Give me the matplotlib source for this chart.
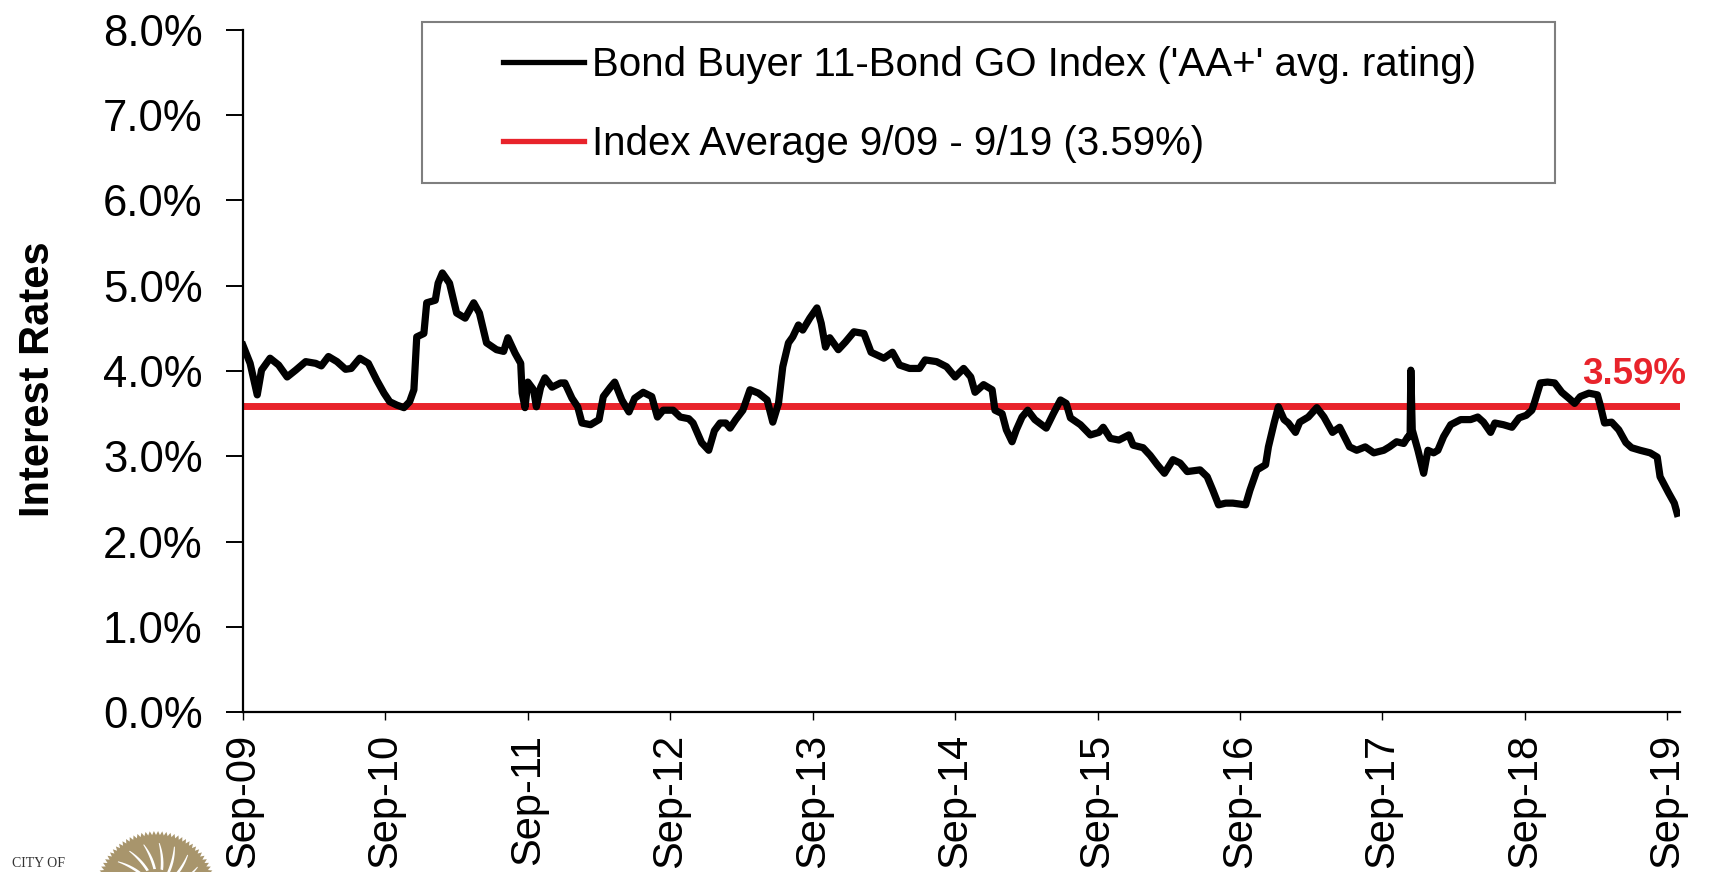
import matplotlib
matplotlib.use("Agg")
import matplotlib.pyplot as plt
from matplotlib.patches import Rectangle, Polygon
import numpy as np

# ---------------- data ----------------
# years elapsed since Sep-2009
years = [0.00, 0.05, 0.10, 0.13, 0.19, 0.25, 0.31, 0.37, 0.44, 0.51, 0.55, 0.60, 0.66,
         0.72, 0.76, 0.82, 0.88, 0.94, 0.99, 1.03, 1.08, 1.13, 1.17, 1.20, 1.22, 1.27,
         1.29, 1.35, 1.37, 1.40, 1.45, 1.50, 1.56, 1.62, 1.66, 1.71, 1.78, 1.83, 1.86,
         1.91, 1.95, 1.96, 1.98, 2.00, 2.04, 2.06, 2.09, 2.12, 2.17, 2.23, 2.26, 2.31,
         2.35, 2.38, 2.44, 2.50, 2.53, 2.58, 2.61, 2.66, 2.71, 2.75, 2.81, 2.87, 2.91,
         2.95, 3.02, 3.07, 3.13, 3.16, 3.22, 3.27, 3.31, 3.35, 3.39, 3.42, 3.46, 3.51,
         3.56, 3.62, 3.68, 3.72, 3.76, 3.79, 3.83, 3.86, 3.90, 3.93, 3.98, 4.03, 4.06,
         4.09, 4.12, 4.18, 4.23, 4.29, 4.36, 4.41, 4.50, 4.56, 4.61, 4.68, 4.75, 4.79,
         4.87, 4.94, 5.00, 5.06, 5.11, 5.14, 5.20, 5.26, 5.28, 5.33, 5.36, 5.40, 5.43,
         5.47, 5.51, 5.56, 5.64, 5.69, 5.74, 5.78, 5.81, 5.88, 5.95, 6.01, 6.04, 6.09,
         6.15, 6.22, 6.25, 6.32, 6.37, 6.42, 6.47, 6.53, 6.58, 6.63, 6.72, 6.77, 6.81,
         6.85, 6.90, 6.95, 7.04, 7.07, 7.12, 7.18, 7.20, 7.24, 7.27, 7.31, 7.34, 7.39,
         7.42, 7.48, 7.54, 7.59, 7.65, 7.70, 7.77, 7.82, 7.88, 7.94, 8.01, 8.05, 8.10,
         8.15, 8.18, 8.195, 8.20, 8.21, 8.25, 8.29, 8.32, 8.36, 8.39, 8.43, 8.48, 8.55,
         8.62, 8.67, 8.71, 8.76, 8.79, 8.85, 8.91, 8.96, 9.01, 9.05, 9.07, 9.11, 9.16,
         9.21, 9.26, 9.31, 9.35, 9.39, 9.45, 9.51, 9.53, 9.56, 9.61, 9.66, 9.71, 9.75,
         9.81, 9.88, 9.93, 9.95, 10.01, 10.05, 10.07]
rates = [4.30, 4.09, 3.72, 4.01, 4.15, 4.07, 3.93, 4.01, 4.11, 4.09, 4.06, 4.17, 4.11,
         4.02, 4.03, 4.15, 4.09, 3.89, 3.74, 3.64, 3.60, 3.57, 3.64, 3.78, 4.40, 4.44,
         4.80, 4.83, 5.03, 5.15, 5.03, 4.68, 4.62, 4.80, 4.68, 4.33, 4.25, 4.23, 4.39,
         4.21, 4.09, 3.74, 3.57, 3.87, 3.78, 3.58, 3.81, 3.92, 3.81, 3.86, 3.86, 3.68,
         3.58, 3.39, 3.37, 3.43, 3.70, 3.81, 3.87, 3.66, 3.52, 3.68, 3.75, 3.70, 3.46,
         3.54, 3.54, 3.46, 3.44, 3.39, 3.16, 3.07, 3.30, 3.39, 3.39, 3.33, 3.43, 3.54,
         3.78, 3.74, 3.66, 3.40, 3.62, 4.05, 4.33, 4.40, 4.54, 4.48, 4.62, 4.74, 4.56,
         4.28, 4.39, 4.25, 4.34, 4.46, 4.44, 4.22, 4.15, 4.22, 4.07, 4.03, 4.03, 4.13,
         4.11, 4.05, 3.93, 4.03, 3.93, 3.75, 3.84, 3.78, 3.54, 3.50, 3.31, 3.17, 3.31,
         3.46, 3.54, 3.43, 3.33, 3.50, 3.66, 3.62, 3.45, 3.37, 3.25, 3.28, 3.34, 3.21,
         3.19, 3.25, 3.13, 3.10, 3.01, 2.90, 2.80, 2.96, 2.92, 2.82, 2.84, 2.76, 2.60,
         2.43, 2.45, 2.45, 2.43, 2.60, 2.84, 2.90, 3.11, 3.39, 3.58, 3.43, 3.39, 3.28,
         3.40, 3.46, 3.57, 3.46, 3.28, 3.34, 3.11, 3.07, 3.11, 3.04, 3.07, 3.11, 3.17,
         3.15, 3.23, 3.23, 4.01, 3.31, 3.07, 2.80, 3.07, 3.04, 3.07, 3.23, 3.37, 3.43,
         3.43, 3.46, 3.40, 3.28, 3.39, 3.37, 3.34, 3.45, 3.48, 3.54, 3.64, 3.86, 3.87,
         3.86, 3.75, 3.68, 3.62, 3.70, 3.74, 3.72, 3.60, 3.39, 3.40, 3.31, 3.16, 3.10,
         3.07, 3.04, 2.99, 2.76, 2.57, 2.45, 2.33]
avg_rate = 3.59
x_tick_pos = [0, 1, 2, 3, 4, 5, 6, 7, 8, 9, 10]
x_tick_labels = ["Sep-09", "Sep-10", "Sep-11", "Sep-12", "Sep-13", "Sep-14",
                 "Sep-15", "Sep-16", "Sep-17", "Sep-18", "Sep-19"]
y_tick_vals = [0, 1, 2, 3, 4, 5, 6, 7, 8]
series_label = "Bond Buyer 11-Bond GO Index ('AA+' avg. rating)"
avg_label = "Index Average 9/09 - 9/19 (3.59%)"
y_title = "Interest Rates"

# ---------------- figure ----------------
plt.rcParams["font.family"] = ["Liberation Sans", "DejaVu Sans"]
W, H = 1729, 872
fig = plt.figure(figsize=(W / 100, H / 100), dpi=100)
fig.patch.set_facecolor("white")
ax = fig.add_axes([243 / W, 160 / H, 1437 / W, 682 / H])

RED = "#e8232b"
line_black, = ax.plot(years, rates, color="black", lw=5.2, solid_joinstyle="round",
                      label=series_label, zorder=3)
line_red = ax.axhline(avg_rate, color=RED, lw=5, label=avg_label, zorder=2)

ax.set_xlim(0, 10.09)
ax.set_ylim(0, 8)
ax.set_yticks(y_tick_vals)
ax.set_yticklabels([f"{v:.1f}%" for v in y_tick_vals])
ax.set_xticks(x_tick_pos)
ax.set_xticklabels(x_tick_labels, rotation=90)

for s in ["top", "right"]:
    ax.spines[s].set_visible(False)
for s in ["left", "bottom"]:
    ax.spines[s].set_linewidth(1.6)
    ax.spines[s].set_color("black")

ax.tick_params(axis="y", direction="out", length=12, width=1.4, pad=17,
               labelsize=31.5, colors="black")
ax.tick_params(axis="x", direction="out", length=6, width=1.0, pad=10,
               labelsize=30, colors="black")

ax.set_ylabel(y_title, fontsize=30, fontweight="bold", va="center")
ax.yaxis.set_label_coords((38 - 243) / 1437, 0.488)

# average label
ax.text(10.13, avg_rate + 0.37, "3.59%", color=RED, fontsize=26.5,
        fontweight="bold", ha="right", va="center", clip_on=False)

# legend box
x0 = (422 - 243) / 1437
x1 = (1555 - 243) / 1437
yb = (712 - 183) / 682
yt = (712 - 22) / 682
ax.add_patch(Rectangle((x0, yb), x1 - x0, yt - yb, transform=ax.transAxes,
                       facecolor="white", edgecolor="#7f7f7f", lw=1.5,
                       clip_on=False, zorder=4))
leg = ax.legend(handles=[line_black, line_red], loc="upper left",
                bbox_to_anchor=((503 - 243) / 1437, (712 - 46) / 682),
                frameon=False, fontsize=29, handlelength=2.0,
                handletextpad=0.2, labelspacing=1.02, borderpad=0,
                borderaxespad=0)
leg.set_zorder(5)
for ln in leg.get_lines():
    ln.set_linewidth(3.8)

# logo (decorative)
lax = fig.add_axes([0, 0, 1, 1], zorder=-1)
lax.set_xlim(0, W)
lax.set_ylim(0, H)
lax.axis("off")
cx, cy, R = 156, -19, 60
ang = np.linspace(0, 2 * np.pi, 181)
rr = np.where(np.arange(181) % 2 == 0, R, R - 4)
lax.add_patch(Polygon(np.c_[cx + rr * np.cos(ang), cy + rr * np.sin(ang)],
                      closed=True, facecolor="#a8956c", edgecolor="none"))
for a in np.linspace(np.radians(15), np.radians(165), 9):
    pts = []
    for t in np.linspace(0, 1, 8):
        r = 22 + t * 26
        aa = a + 0.25 * t
        pts.append((cx + r * np.cos(aa), cy + r * np.sin(aa)))
    for t in np.linspace(1, 0, 8):
        r = 22 + t * 26
        aa = a + 0.25 * t + 0.10 * (1 - t) + 0.02
        pts.append((cx + r * np.cos(aa), cy + r * np.sin(aa)))
    lax.add_patch(Polygon(pts, closed=True, facecolor="white", edgecolor="none"))
lax.text(12, 9, "CITY OF", family="Liberation Serif", fontsize=10,
         color="#333333", ha="left", va="center")

fig.savefig("out.png", dpi=100, facecolor="white")
